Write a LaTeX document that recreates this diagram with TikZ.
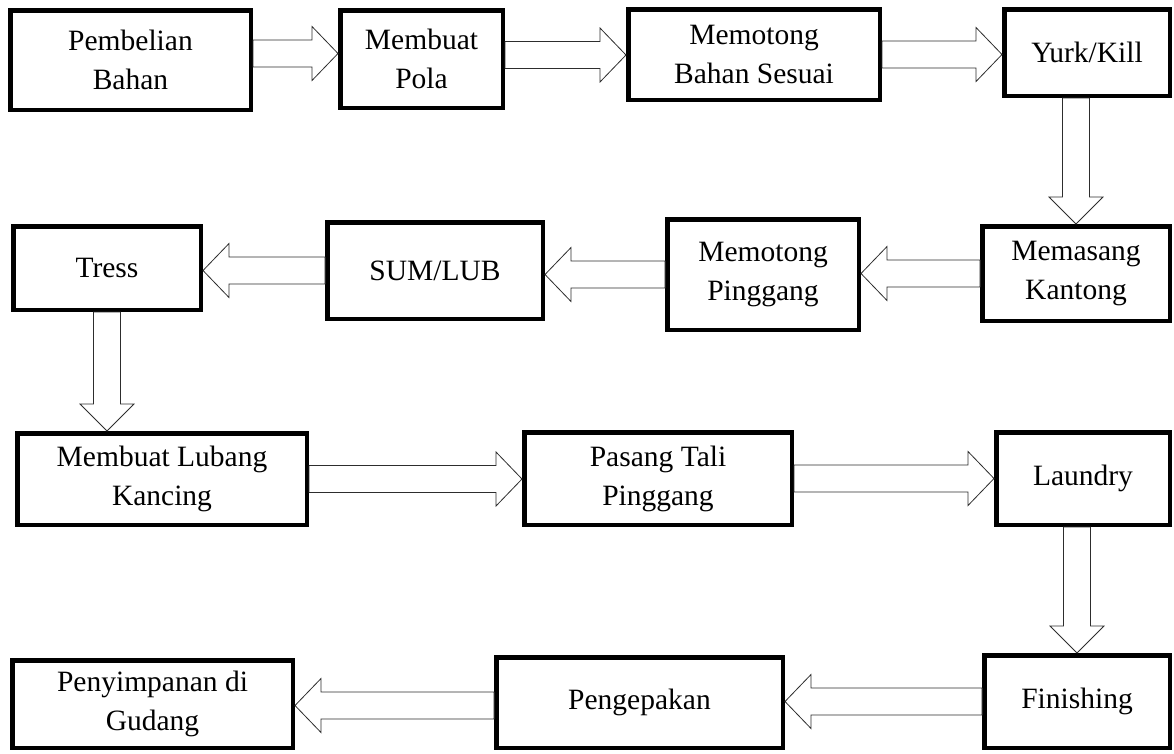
\documentclass[tikz,border=0pt]{standalone}
\usepackage{fontspec}
\setmainfont{Liberation Serif}
\usetikzlibrary{calc}
\definecolor{arrowline}{RGB}{45,45,45}

\newcommand{\flowh}[2]{\draw[flowarrow] let \p1=#1, \p2=#2, \n1={\x2-sign(\x2-\x1)*26pt} in
  (\x1,\y1+13.5pt) -- ({\n1*1pt},\y1+13.5pt) -- ({\n1*1pt},\y1+27pt) -- (\x2,\y1)
  -- ({\n1*1pt},\y1-27pt) -- ({\n1*1pt},\y1-13.5pt) -- (\x1,\y1-13.5pt) -- cycle;}
\newcommand{\flowv}[2]{\draw[flowarrow] let \p1=#1, \p2=#2, \n1={\y2-sign(\y2-\y1)*27pt} in
  (\x1+13.5pt,\y1) -- (\x1+13.5pt,{\n1*1pt}) -- (\x1+27pt,{\n1*1pt}) -- (\x1,\y2)
  -- (\x1-27pt,{\n1*1pt}) -- (\x1-13.5pt,{\n1*1pt}) -- (\x1-13.5pt,\y1) -- cycle;}

\begin{document}
\begin{tikzpicture}[x=1pt, y=-1pt,
    stepbox/.style={draw, line width=4.5pt, inner sep=0pt, align=center,
      font=\fontsize{29.5}{39}\selectfont},
    flowarrow/.style={draw=arrowline, line width=0.8pt, fill=white}]
  \useasboundingbox (0,0) rectangle (1174,753);

  \node[stepbox, minimum width=240.5pt, minimum height=99.5pt] (pembelian) at (130.5,60) {Pembelian\\Bahan};
  \node[stepbox, minimum width=162.5pt, minimum height=97.5pt] (pola) at (421.5,59) {Membuat\\Pola};
  \node[stepbox, minimum width=251.5pt, minimum height=90.5pt] (potongbahan) at (754,54.5) {Memotong\\Bahan Sesuai};
  \node[stepbox, minimum width=165.5pt, minimum height=86.5pt] (yurk) at (1087,52.5) {Yurk/Kill};

  \node[stepbox, minimum width=187.5pt, minimum height=94.5pt] (kantong) at (1076,273.5) {Memasang\\Kantong};
  \node[stepbox, minimum width=191.5pt, minimum height=110.5pt] (pinggang) at (763,274.5) {Memotong\\Pinggang};
  \node[stepbox, minimum width=215.5pt, minimum height=96.5pt] (sumlub) at (435,270.5) {SUM/LUB};
  \node[stepbox, minimum width=187.5pt, minimum height=83.5pt] (tress) at (107,268) {Tress};

  \node[stepbox, minimum width=289.5pt, minimum height=91.5pt] (lubang) at (162,479) {Membuat Lubang\\Kancing};
  \node[stepbox, minimum width=267.5pt, minimum height=92.5pt] (tali) at (658,478.5) {Pasang Tali\\Pinggang};
  \node[stepbox, minimum width=173.5pt, minimum height=92.5pt] (laundry) at (1083,478.5) {Laundry};

  \node[stepbox, minimum width=185.5pt, minimum height=92.5pt] (finishing) at (1077,701.5) {Finishing};
  \node[stepbox, minimum width=286.5pt, minimum height=90.5pt] (kemas) at (639.5,702.5) {Pengepakan};
  \node[stepbox, minimum width=280.5pt, minimum height=87.5pt] (gudang) at (152.5,704) {Penyimpanan di\\Gudang};

  \flowh{([yshift=6.5pt]pembelian.east)}{(pola.west)}
  \flowh{([yshift=4pt]pola.east)}{(potongbahan.west)}
  \flowh{(potongbahan.east)}{(yurk.west)}
  \flowv{(yurk.south -| kantong.north)}{(kantong.north)}
  \flowh{(kantong.west)}{(pinggang.east)}
  \flowh{(pinggang.west)}{(sumlub.east)}
  \flowh{(sumlub.west)}{(tress.east)}
  \flowv{(tress.south)}{(lubang.north)}
  \flowh{(lubang.east)}{(tali.west)}
  \flowh{(tali.east)}{(laundry.west)}
  \flowv{(laundry.south -| finishing.north)}{(finishing.north)}
  \flowh{(finishing.west)}{(kemas.east)}
  \flowh{([yshift=-3pt]kemas.west)}{(gudang.east)}
\end{tikzpicture}
\end{document}
